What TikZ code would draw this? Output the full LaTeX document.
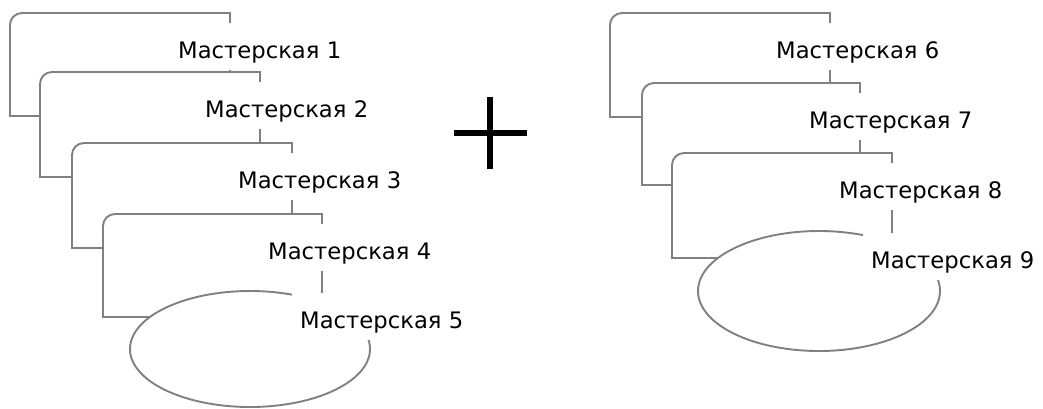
\documentclass[tikz,border=0pt]{standalone}
\usepackage{fontspec}
\setmainfont{DejaVu Sans}
\newfontfamily\lblfont{DejaVu Sans}
\definecolor{linegray}{RGB}{128,128,128}
\newcommand\foldshape[4]{\draw[frame] (#1,#4) -- (#1,#2+12) arc[start angle=180,end angle=90,radius=12pt] -- (#3,#2) -- (#3,#4) -- cycle;}
\begin{document}
\begin{tikzpicture}[x=1pt,y=-1pt]
\tikzset{
  frame/.style={draw=linegray, line width=1.9pt, fill=white},
  lbl/.style={fill=white, inner xsep=8pt, inner ysep=0pt, text height=35pt, text depth=12pt, anchor=base west, text=black, font=\lblfont\fontsize{22.7}{22.7}\selectfont},
  plusbar/.style={draw=black, line width=6.5pt}
}
\useasboundingbox (0,0) rectangle (1043,408);
% left group
\foldshape{10}{13}{230}{116}
\foldshape{40}{72}{260}{177}
\foldshape{72}{143}{292}{248}
\foldshape{103}{214}{322}{317}
\draw[frame] (250,349) ellipse[x radius=120pt, y radius=58pt];
\node[lbl] (m1) at (170,58) {Мастерская 1};
\node[lbl] (m2) at (197,117) {Мастерская 2};
\node[lbl] (m3) at (230,188) {Мастерская 3};
\node[lbl] (m4) at (260,259) {Мастерская 4};
\node[lbl] (m5) at (292,328) {Мастерская 5};
% plus
\coordinate (pt) at (490,97);
\coordinate (pb) at (490,169);
\coordinate (pl) at (454,133);
\coordinate (pr) at (527,133);
\draw[plusbar] (pt) -- (pb);
\draw[plusbar] (pl) -- (pr);
% right group
\foldshape{610}{13}{830}{117}
\foldshape{642}{83}{860}{185}
\foldshape{672}{153}{892}{258}
\draw[frame] (819,291) ellipse[x radius=121pt, y radius=60pt];
\node[lbl] (m6) at (768,58) {Мастерская 6};
\node[lbl] (m7) at (801,128) {Мастерская 7};
\node[lbl] (m8) at (831,198) {Мастерская 8};
\node[lbl] (m9) at (863,268) {Мастерская 9};
\end{tikzpicture}
\end{document}
